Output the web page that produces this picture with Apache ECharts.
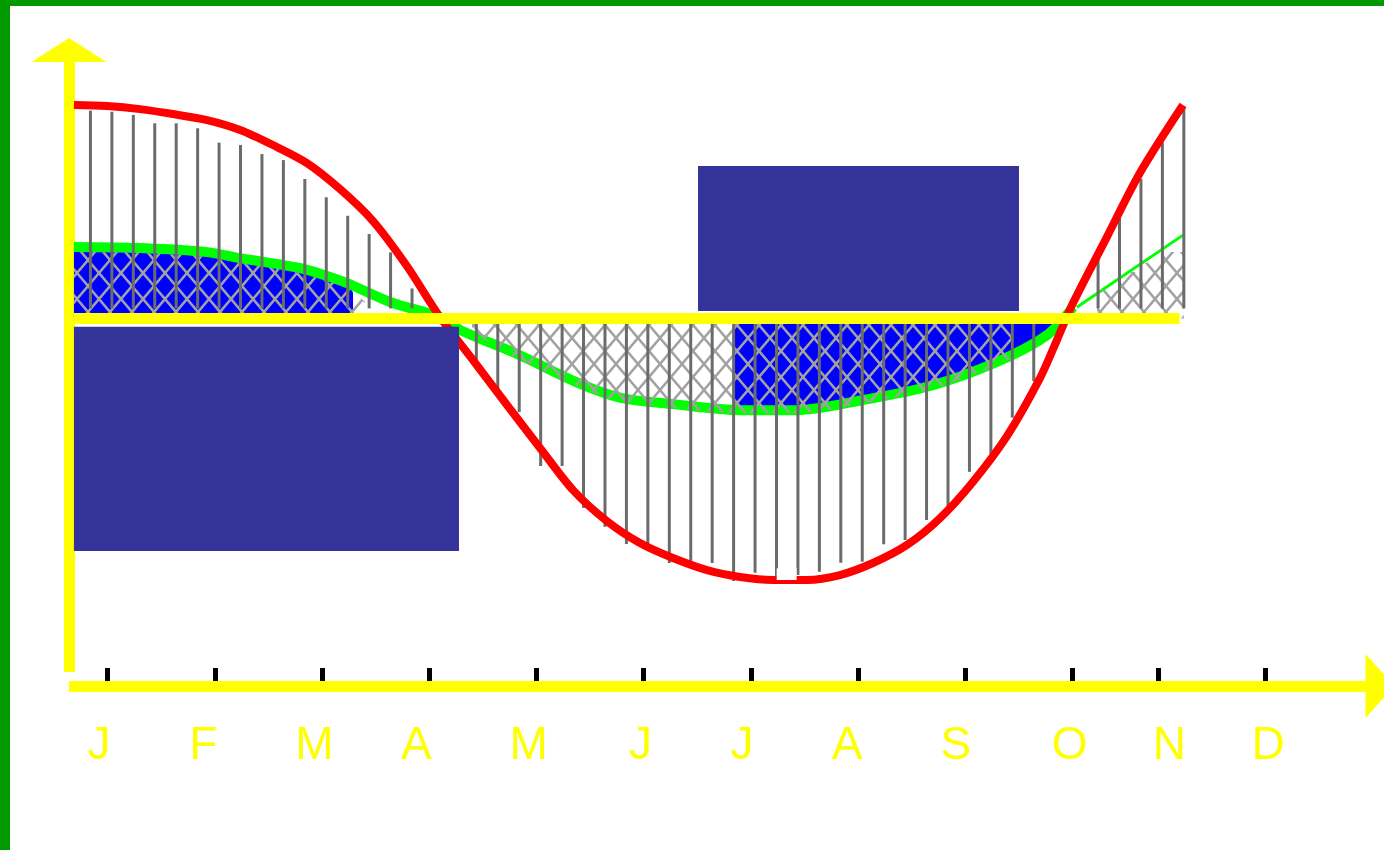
<!DOCTYPE html>
<html>
<head>
<meta charset="utf-8">
<script src="https://cdn.jsdelivr.net/npm/echarts@6/dist/echarts.min.js"></script>
<style>
  html, body { margin: 0; padding: 0; background: #fff; }
  #frame { position: absolute; left: 0; top: 0; width: 1374px; height: 844px;
           border-top: 6px solid #009900; border-left: 10px solid #009900; }
  #chart { position: absolute; left: 0; top: 0; width: 1384px; height: 850px; }
</style>
</head>
<body>
<div id="frame"></div>
<div id="chart"></div>
<script>
// x in weekly steps, y in % of the red peak
const months = ['J', 'F', 'M', 'A', 'M', 'J', 'J', 'A', 'S', 'O', 'N', 'D'];
const tickPos = [1.8, 6.8, 11.8, 16.8, 21.8, 26.8, 31.8, 36.8, 41.8, 46.8, 50.8, 55.8];
const labelPos = [1.4, 6.27, 11.45, 16.2, 21.44, 26.66, 31.39, 36.29, 41.37, 46.67, 51.33, 55.93];

const redCurve = [
  [0.23, 99.3], [1.77, 98.8], [3.31, 97.4], [4.85, 95.1], [6.44, 92.3], [7.98, 87.7],
  [9.51, 80.7], [11.1, 72.3], [12.64, 60.2], [14.18, 45.3], [15.76, 24.4], [17.3, 0.7],
  [18.84, -19.3], [20.43, -40.2], [21.97, -60.2], [23.51, -79.8], [25.09, -94.2], [26.63, -104.4],
  [28.17, -111.4], [29.76, -117], [31.3, -120.2], [32.84, -121.6], [34.42, -121.6], [35.96, -119.3],
  [37.5, -113.7], [39.09, -105.3], [40.63, -92.8], [42.16, -76], [43.75, -54.7], [45.29, -27.7],
  [46.08, -10], [46.83, 7.2], [48.41, 37.9], [49.95, 67.7], [51.96, 99.3]
];
const greenCurve = [
  [0.23, 33.3], [3.31, 32.8], [6.44, 30.9], [7.98, 28.1], [10.77, 23.5], [12.03, 19.8],
  [12.97, 16.5], [14.97, 7.7], [17.3, 0.7], [18.24, -5.3], [20.9, -16.5], [23.97, -30.9],
  [25.79, -37], [28.17, -39.8], [31.3, -42.6], [33.96, -42.6], [37.03, -37.9], [40.16, -31.4],
  [43.28, -20.2], [45.62, -7.7], [46.83, 5.3]
];
const greenTail = [[47.01, 5.3], [51.96, 38.8]];

const blueLeft = [
  [0.23, 33.3], [3.31, 32.8], [6.44, 30.9], [7.98, 28.1], [10.77, 23.5], [12.03, 19.8],
  [12.97, 16.5], [13.25, 11.9]
];
const blueMid = [
  [30.97, -42.4], [31.3, -42.6], [33.96, -42.6], [37.03, -37.9], [40.16, -31.4],
  [43.28, -20.2], [45.62, -7.7], [46.3, 0]
];

const hatchLeft = [
  [0.23, 30.9], [3.31, 30.5], [6.44, 28.6], [7.98, 25.8], [10.77, 21.2], [12.03, 17.5],
  [12.97, 14.2], [13.8, 8]
];
const hatchMid = [
  [18.8, -6], [20.9, -18.5], [23.97, -32.5], [25.79, -38.5], [28.17, -41.5], [31.3, -44],
  [33.96, -44], [37.03, -39.5], [40.16, -33], [43.28, -22], [44.0, -18.5]
];
const hatchRight = [[47.95, 13.3], [49, 21.6], [50, 26], [51, 30.9], [52, 30.9]];

// drop lines, one per week step
const dropBase = 4.7;
const dropLeftTop = [96.7, 96.2, 94.7, 90.8, 90.8, 88.5, 81.8, 80.7, 76.5, 73.7, 64.9, 56.4, 47.8, 39.3, 30.8, 14.0];
const dropMidBottom = [-20.7, -34.7, -43.5, -68.6, -68.6, -88.1, -96.9, -104.9, -104.9, -113.7, -113.7, -113.7,
  -122.1, -118.2, -122.1, -119.3, -117.8, -113.6, -113.1, -105, -103, -93.7, -88.3, -71.3, -63, -46.1, -29.1];
const dropRightTop = [30.6, 47.7, 64.9, 81.8, 98.8];

const zeroLine = [[0.23, 0], [51.8, 0]];
// [x1, y1, x2, y2]
const darkBoxes = [[0.23, -3.8, 18.19, -108.1], [29.34, 70.9, 44.31, 3.5]];
const whiteNotch = [[33.01, -116.2, 33.94, -121.6]];

const drops = [];
dropLeftTop.forEach((v, i) => drops.push([i + 1, dropBase, v]));
dropMidBottom.forEach((v, i) => drops.push([i + 19, 0, v]));
dropRightTop.forEach((v, i) => drops.push([i + 48, dropBase, v]));

function hatchPattern() {
  const w = 22, h = 26;
  const c = document.createElement('canvas');
  c.width = w; c.height = h;
  const ctx = c.getContext('2d');
  ctx.strokeStyle = '#a2a2a2';
  ctx.lineWidth = 2.5;
  ctx.beginPath();
  ctx.moveTo(-w, -h); ctx.lineTo(2 * w, 2 * h);
  ctx.moveTo(2 * w, -h); ctx.lineTo(-w, 2 * h);
  ctx.stroke();
  return c;
}
const hatch = { image: hatchPattern(), repeat: 'repeat' };

const YELLOW = '#ffff00';
const X_MIN = 0, X_MAX = 61.15;

const area = (data, color, z, extra) => Object.assign({
  type: 'line', data, z, showSymbol: false, silent: true, smooth: 0.3,
  lineStyle: { width: 0, opacity: 0 },
  areaStyle: { color, opacity: 1 }
}, extra || {});

const line = (data, color, width, z, extra) => Object.assign({
  type: 'line', data, z, showSymbol: false, silent: true, smooth: 0.3,
  lineStyle: { color, width }
}, extra || {});

const boxes = (data, color, z) => ({
  type: 'custom', data, z, silent: true,
  renderItem: (params, api) => {
    const a = api.coord([api.value(0), api.value(1)]);
    const b = api.coord([api.value(2), api.value(3)]);
    return {
      type: 'rect',
      shape: { x: Math.min(a[0], b[0]), y: Math.min(a[1], b[1]),
               width: Math.abs(b[0] - a[0]), height: Math.abs(b[1] - a[1]) },
      style: { fill: color }
    };
  }
});

const chart = echarts.init(document.getElementById('chart'));
chart.setOption({
  animation: false,
  backgroundColor: 'transparent',
  grid: { left: 69, right: 4, top: 50, bottom: 178, containLabel: false, outerBoundsMode: 'none' },
  xAxis: [{
    type: 'value', min: X_MIN, max: X_MAX, position: 'bottom', offset: 14,
    axisLine: { show: true, onZero: false, symbol: ['none', 'triangle'], symbolSize: [64, 29],
                lineStyle: { color: YELLOW, width: 11, cap: 'butt' } },
    axisTick: { show: false },
    splitLine: { show: false },
    axisLabel: {
      show: true, customValues: labelPos, margin: 37,
      color: YELLOW, fontSize: 46, fontFamily: 'Liberation Sans, Arial, sans-serif',
      formatter: v => {
        let best = 0;
        labelPos.forEach((p, i) => { if (Math.abs(p - v) < Math.abs(labelPos[best] - v)) best = i; });
        return months[best];
      }
    }
  }, {
    type: 'value', min: X_MIN, max: X_MAX, position: 'bottom', offset: 9,
    axisLine: { show: false, onZero: false },
    axisTick: { show: true, inside: true, length: 13, customValues: tickPos,
                lineStyle: { color: '#000', width: 5, cap: 'butt' } },
    axisLabel: { show: false },
    splitLine: { show: false }
  }],
  yAxis: {
    type: 'value', min: -164.4, max: 124.9,
    axisLine: { show: true, onZero: false, symbol: ['none', 'triangle'], symbolSize: [75, 24],
                lineStyle: { color: YELLOW, width: 11, cap: 'butt' } },
    axisTick: { show: false },
    axisLabel: { show: false },
    splitLine: { show: false }
  },
  series: [
    area(blueLeft, '#0000ff', 1),
    area(blueMid, '#0000ff', 1),
    line(greenCurve, '#00ff00', 10, 2),
    line(greenTail, '#00ff00', 3, 2, { smooth: false }),
    area(hatchLeft, hatch, 3),
    area(hatchMid, hatch, 3),
    area(hatchRight, hatch, 3, { smooth: false, step: 'end' }),
    {
      type: 'custom', data: drops, z: 4, silent: true,
      renderItem: (params, api) => {
        const a = api.coord([api.value(0), api.value(1)]);
        const b = api.coord([api.value(0), api.value(2)]);
        return { type: 'line', shape: { x1: a[0], y1: a[1], x2: b[0], y2: b[1] },
                 style: { stroke: '#6b6b6b', lineWidth: 3 } };
      }
    },
    line(redCurve, '#ff0000', 8, 5),
    line(zeroLine, YELLOW, 11, 6, { smooth: false }),
    boxes(darkBoxes, '#333399', 10),
    boxes(whiteNotch, '#ffffff', 10)
  ]
});
</script>
</body>
</html>
